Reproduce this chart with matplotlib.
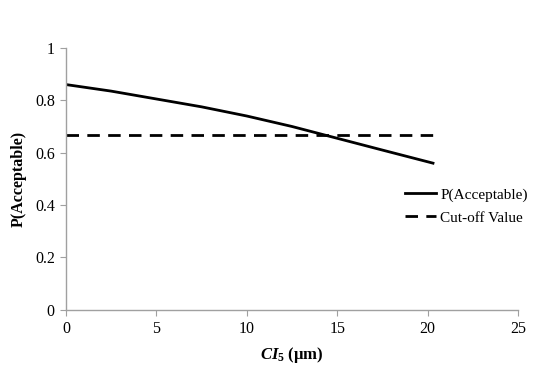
import matplotlib
matplotlib.use("Agg")
import matplotlib.pyplot as plt

ci5 = [0, 2.5, 5, 7.5, 10, 12.5, 15, 17.5, 20.3]
p_acceptable = [0.86, 0.835, 0.805, 0.775, 0.74, 0.70, 0.655, 0.61, 0.56]
cutoff_x = [0, 20.3]
cutoff_y = [0.668, 0.668]

plt.rcParams['font.family'] = ['Liberation Serif', 'DejaVu Serif']
plt.rcParams['mathtext.fontset'] = 'custom'
plt.rcParams['mathtext.rm'] = 'Liberation Serif:bold'
plt.rcParams['mathtext.it'] = 'Liberation Serif:italic:bold'
plt.rcParams['mathtext.bf'] = 'Liberation Serif:bold'

fig = plt.figure(figsize=(5.54, 3.77), dpi=100)
ax = fig.add_axes([0.119, 0.178, 0.816, 0.695])

ax.plot(ci5, p_acceptable, color='black', lw=2.0, label='P(Acceptable)')
ax.plot(cutoff_x, cutoff_y, color='black', lw=2.0, dashes=(4.5, 3), label='Cut-off Value')

ax.set_xlim(0, 25)
ax.set_ylim(0, 1)
ax.set_xticks([0, 5, 10, 15, 20, 25])
ax.set_yticks([0, 0.2, 0.4, 0.6, 0.8, 1])
ax.set_yticklabels(['0', '0.2', '0.4', '0.6', '0.8', '1'])

for s in ['top', 'right']:
    ax.spines[s].set_visible(False)
for s in ['left', 'bottom']:
    ax.spines[s].set_color('#a0a0a0')
    ax.spines[s].set_linewidth(1.0)
ax.tick_params(axis='both', direction='out', length=4, color='#a0a0a0', labelsize=11.5, pad=4)

ax.set_ylabel('P(Acceptable)', fontsize=11.5, fontweight='bold', labelpad=6)
ax.set_xlabel(r'$\mathit{CI}_{\mathit{5}}$ (μm)', fontsize=12, fontweight='bold', labelpad=6)

leg = ax.legend(loc='center left', bbox_to_anchor=(0.72, 0.395), frameon=False,
                fontsize=11, handlelength=2.0, handletextpad=0.3, labelspacing=0.6)

fig.savefig('out.png', dpi=100)
